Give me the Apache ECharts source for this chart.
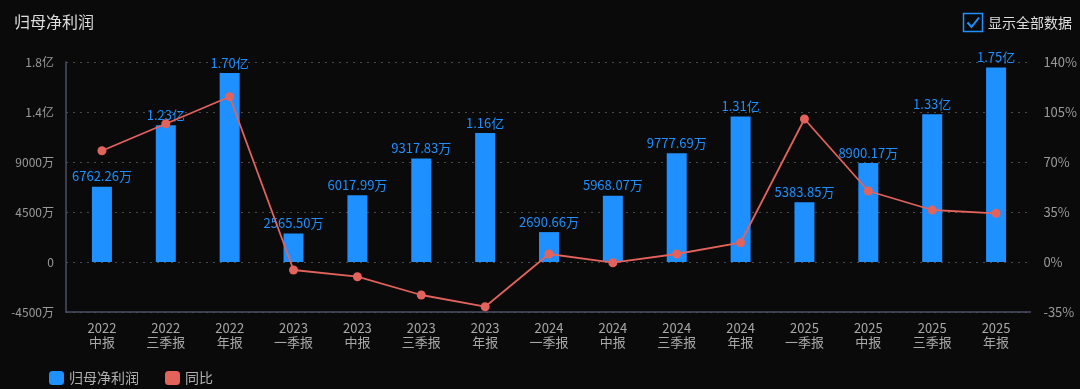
<!DOCTYPE html>
<html>
<head>
<meta charset="utf-8">
<script src="https://cdn.jsdelivr.net/npm/echarts@6/dist/echarts.min.js"></script>
<style>
html,body{margin:0;padding:0;background:#0a0a0a;}
#chart{width:1080px;height:389px;}
</style>
</head>
<body>
<div id="chart"></div>
<script>
const categories = ['2022\n中报','2022\n三季报','2022\n年报','2023\n一季报','2023\n中报','2023\n三季报','2023\n年报','2024\n一季报','2024\n中报','2024\n三季报','2024\n年报','2025\n一季报','2025\n中报','2025\n三季报','2025\n年报'];
const profit = [6762.26, 12300, 17000, 2565.50, 6017.99, 9317.83, 11600, 2690.66, 5968.07, 9777.69, 13100, 5383.85, 8900.17, 13300, 17500];
const yoy = [77.9, 96.8, 115.7, -5.6, -10.3, -23.1, -31.3, 5.6, -0.5, 5.6, 13.5, 100.1, 49.7, 36.4, 34.1];
const leftTickLabels = ['-4500万', '0', '4500万', '9000万', '1.4亿', '1.8亿'];
const rightTickLabels = ['-35%', '0%', '35%', '70%', '105%', '140%'];

const FONT = '"Noto Sans CJK SC", "Noto Sans", sans-serif';
const BLUE = '#1e90ff';
const RED = '#e2625c';

function fmtProfit(v) {
  if (Math.abs(v) >= 10000) return (v / 10000).toFixed(2) + '亿';
  return v.toFixed(2) + '万';
}

const chart = echarts.init(document.getElementById('chart'), null, {renderer: 'canvas'});
chart.setOption({
  backgroundColor: '#0a0a0a',
  animation: false,
  textStyle: {fontFamily: FONT},
  title: {
    text: '归母净利润', left: 9, top: 9,
    textStyle: {color: '#dddddd', fontSize: 16, fontWeight: 'normal', fontFamily: FONT}
  },
  legend: {
    left: 44, top: 366, itemWidth: 15, itemHeight: 14, itemGap: 26,
    icon: 'roundRect',
    textStyle: {color: '#b0b0b0', fontSize: 14, fontFamily: FONT},
    data: ['归母净利润', '同比']
  },
  graphic: [
    {type: 'rect', shape: {x: 963.5, y: 13.5, width: 19, height: 18}, style: {fill: 'none', stroke: BLUE, lineWidth: 1.5}},
    {type: 'polyline', shape: {points: [[967.5, 22.5], [971.5, 27], [979, 17.5]]}, style: {fill: 'none', stroke: BLUE, lineWidth: 2}},
    {type: 'text', x: 988, y: 22.5, style: {text: '显示全部数据', fill: '#dddddd', font: '14px ' + FONT, textVerticalAlign: 'middle'}}
  ],
  grid: [
    {left: 66, right: 43, top: 62, height: 250},
    {left: 70, width: 958, top: 62, height: 250}
  ],
  xAxis: [
    {type: 'value', gridIndex: 0, min: 0, max: 1, show: true,
     axisLine: {show: true, onZero: false, lineStyle: {color: '#4a4f66', width: 1.5}},
     axisTick: {show: false}, axisLabel: {show: false}, splitLine: {show: false}},
    {type: 'category', gridIndex: 1, data: categories, boundaryGap: true,
     axisLine: {show: false, onZero: false}, axisTick: {show: false},
     axisLabel: {color: '#a8a8a8', fontSize: 13, lineHeight: 14, margin: 9, interval: 0, fontFamily: FONT}}
  ],
  yAxis: [
    {type: 'value', gridIndex: 0, position: 'left', min: -4500, max: 18000, interval: 4500,
     axisLine: {show: true, lineStyle: {color: '#4a4f66', width: 1.5}}, axisTick: {show: false},
     axisLabel: {color: '#9a9a9a', fontSize: 12, margin: 12, fontFamily: FONT,
       formatter: v => leftTickLabels[Math.round((v + 4500) / 4500)]},
     splitLine: {show: true, lineStyle: {color: '#4a4a4a', type: [2, 5], width: 1}}},
    {type: 'value', gridIndex: 0, position: 'right', min: -35, max: 140, interval: 35,
     axisLine: {show: false}, axisTick: {show: false},
     axisLabel: {color: '#9a9a9a', fontSize: 13, margin: 13, fontFamily: FONT,
       formatter: v => rightTickLabels[Math.round((v + 35) / 35)]},
     splitLine: {show: false}},
    {type: 'value', gridIndex: 1, min: -4500, max: 18000, interval: 4500, show: false},
    {type: 'value', gridIndex: 1, min: -35, max: 140, interval: 35, show: false}
  ],
  series: [
    {name: '归母净利润', type: 'bar', xAxisIndex: 1, yAxisIndex: 2, data: profit,
     barWidth: 20, itemStyle: {color: BLUE},
     label: {show: true, position: 'top', distance: 4, color: BLUE, fontSize: 13, fontFamily: FONT,
       formatter: p => fmtProfit(p.value)}},
    {name: '同比', type: 'line', xAxisIndex: 1, yAxisIndex: 3, data: yoy,
     symbol: 'circle', symbolSize: 9, itemStyle: {color: RED},
     lineStyle: {color: RED, width: 1.8}, z: 5}
  ]
});
</script>
</body>
</html>
